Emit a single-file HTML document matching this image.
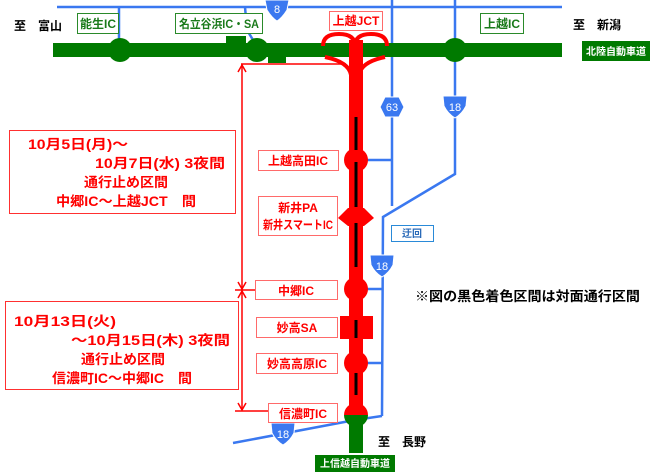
<!DOCTYPE html>
<html><head><meta charset="utf-8"><style>
html,body{margin:0;padding:0;background:#fff;}
svg{display:block;font-family:"Liberation Sans","Noto Sans CJK JP",sans-serif;font-weight:bold;}
</style></head><body>
<svg width="655" height="474" viewBox="0 0 655 474" xmlns="http://www.w3.org/2000/svg">
<g stroke="#3a78f0" stroke-width="2.5" fill="none">
<line x1="57" y1="7" x2="562" y2="7"/>
<line x1="119" y1="7" x2="119" y2="45"/>
<polyline points="245,7 247,30 256,45"/>
<line x1="392" y1="0" x2="392" y2="206"/>
<polyline points="455,0 455,174 383,217 382,416"/>
<line x1="355" y1="160" x2="392" y2="160"/>
<line x1="355" y1="289" x2="382" y2="289"/>
<line x1="355" y1="363" x2="382" y2="363"/>
<polyline points="233,443 355,420 382,416"/>
</g>
<g fill="#3a78f0" stroke="#fff" stroke-width="1">
<path d="M265,0 L289,0 L287,10 Q282,18 277,21 Q272,18 267,10 Z"/>
<path d="M380,107 L385,97 L399,97 L404,107 L399,117 L385,117 Z"/>
<path d="M443,96 L467,96 L466,106 Q462,114 455,118 Q448,114 444,106 Z"/>
<path d="M370,255 L394,255 L393,265 Q389,273 382,277 Q375,273 371,265 Z"/>
<path d="M271,423 L295,423 L294,433 Q290,441 283,445 Q276,441 272,433 Z"/>
</g>
<g fill="#fff" font-size="11" text-anchor="middle" font-weight="normal">
<text x="277" y="13">8</text><text x="392" y="111">63</text><text x="455" y="111">18</text><text x="382" y="270">18</text><text x="283" y="438">18</text>
</g>
<rect x="53" y="43" width="509" height="14" fill="#007a00"/>
<rect x="226" y="36" width="20" height="8" fill="#007a00"/>
<rect x="268" y="56" width="18" height="7" fill="#007a00"/>
<circle cx="120" cy="50" r="12" fill="#007a00"/>
<circle cx="257" cy="50" r="12" fill="#007a00"/>
<circle cx="455" cy="50" r="12" fill="#007a00"/>
<rect x="582" y="41" width="68" height="20" fill="#007a00"/>
<text x="616" y="55" fill="#fff" font-size="10" text-anchor="middle">北陸自動車道</text>
<g fill="none" stroke="#ff0000" stroke-width="4">
<path d="M323,46 Q323,34 339,34 Q355,34 355,46"/>
<path d="M355,46 Q355,34 371,34 Q387,34 387,46"/>
<path d="M325,57 Q349,62 351,75"/>
<path d="M385,57 Q361,62 359,75"/>
</g>
<rect x="349" y="40" width="14" height="376" fill="#ff0000"/>
<rect x="349" y="415" width="14" height="38" fill="#007a00"/>
<path d="M344,415 A12,12 0 0 1 368,415 Z" fill="#ff0000"/>
<path d="M344,415 A12,12 0 0 0 368,415 Z" fill="#007a00"/>
<circle cx="356" cy="160" r="12" fill="#ff0000"/>
<polygon points="338,218 348,208 364,208 374,218 364,226 348,226" fill="#ff0000"/>
<circle cx="356" cy="289" r="12" fill="#ff0000"/>
<rect x="340" y="316" width="33" height="23" fill="#ff0000"/>
<circle cx="356" cy="363" r="12" fill="#ff0000"/>
<g stroke="#000" stroke-width="3">
<line x1="356" y1="117" x2="356" y2="150"/><line x1="356" y1="162" x2="356" y2="207"/>
<line x1="356" y1="223" x2="356" y2="267"/><line x1="356" y1="320" x2="356" y2="338"/>
<line x1="356" y1="373" x2="356" y2="395"/>
</g>
<rect x="315" y="455" width="80" height="17" fill="#007a00"/>
<text x="355" y="467" fill="#fff" font-size="10" text-anchor="middle">上信越自動車道</text>
<g stroke="#ff0000" stroke-width="1.5" fill="none">
<line x1="241" y1="64" x2="346" y2="64"/>
<line x1="242" y1="64" x2="242" y2="410"/>
<line x1="235" y1="290" x2="256" y2="290"/>
<line x1="235" y1="411" x2="268" y2="411"/>
<polyline points="238,72 242,65 246,72"/>
<polyline points="238,282 242,289 246,282"/>
<polyline points="238,298 242,291 246,298"/>
<polyline points="238,403 242,410 246,403"/>
</g>
<g fill="#fff" stroke="#ff6a6a" stroke-width="1">
<rect x="329.5" y="11.5" width="53" height="19"/>
<rect x="258.5" y="150.5" width="80" height="20"/>
<rect x="258.5" y="196.5" width="79" height="39"/>
<rect x="255.5" y="280.5" width="82" height="19"/>
<rect x="256.5" y="317.5" width="81" height="20"/>
<rect x="256.5" y="353.5" width="81" height="20"/>
<rect x="268.5" y="403.5" width="69" height="19"/>
</g>
<g fill="#ff0000" font-size="12" text-anchor="middle">
<text x="356" y="25">上越JCT</text>
<text x="298" y="165">上越高田IC</text>
<text x="298" y="212">新井PA</text>
<text x="298" y="229" textLength="70" lengthAdjust="spacingAndGlyphs">新井スマートIC</text>
<text x="296" y="295">中郷IC</text>
<text x="297" y="332">妙高SA</text>
<text x="297" y="368">妙高高原IC</text>
<text x="303" y="418">信濃町IC</text>
</g>
<g fill="#fff" stroke="#2a8a2a" stroke-width="1">
<rect x="77.5" y="13.5" width="41" height="20"/>
<rect x="175.5" y="13.5" width="87" height="20"/>
<rect x="480.5" y="13.5" width="43" height="20"/>
</g>
<g fill="#1a7a1a" font-size="12" text-anchor="middle">
<text x="98" y="28">能生IC</text>
<text x="219" y="28" textLength="80" lengthAdjust="spacingAndGlyphs">名立谷浜IC・SA</text>
<text x="502" y="28">上越IC</text>
</g>
<rect x="391.5" y="225.5" width="42" height="16" fill="#fff" stroke="#2a8ad8" stroke-width="1"/>
<text x="412" y="237" fill="#2a6ab8" font-size="10" text-anchor="middle">迂回</text>
<g fill="#000" font-size="12">
<text x="14" y="30">至　富山</text>
<text x="573" y="29">至　新潟</text>
<text x="378" y="446">至　長野</text>
<text x="415" y="301" font-size="13.5" textLength="225" lengthAdjust="spacingAndGlyphs">※図の黒色着色区間は対面通行区間</text>
</g>
<rect x="9.5" y="130.5" width="226" height="83" fill="none" stroke="#ff3030" stroke-width="1"/>
<g fill="#ff0000" font-size="13.5">
<text x="28" y="149" textLength="100" lengthAdjust="spacingAndGlyphs">10月5日(月)～</text>
<text x="95" y="168" textLength="130" lengthAdjust="spacingAndGlyphs">10月7日(水) 3夜間</text>
<text x="84" y="187" textLength="84" lengthAdjust="spacingAndGlyphs">通行止め区間</text>
<text x="56" y="206" textLength="140" lengthAdjust="spacingAndGlyphs">中郷IC～上越JCT　間</text>
</g>
<rect x="5.5" y="301.5" width="233" height="88" fill="none" stroke="#ff3030" stroke-width="1"/>
<g fill="#ff0000" font-size="13.5">
<text x="14" y="326" textLength="102" lengthAdjust="spacingAndGlyphs">10月13日(火)</text>
<text x="71" y="345" textLength="159" lengthAdjust="spacingAndGlyphs">～10月15日(木) 3夜間</text>
<text x="81" y="364" textLength="84" lengthAdjust="spacingAndGlyphs">通行止め区間</text>
<text x="52" y="383" textLength="140" lengthAdjust="spacingAndGlyphs">信濃町IC～中郷IC　間</text>
</g>
</svg>
</body></html>
